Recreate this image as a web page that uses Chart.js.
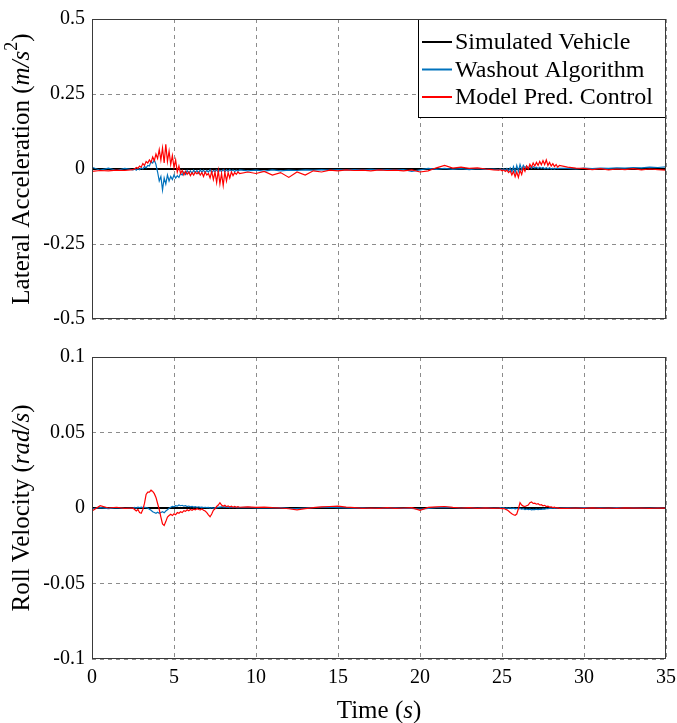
<!DOCTYPE html>
<html>
<head>
<meta charset="utf-8">
<script src="https://cdn.jsdelivr.net/npm/chart.js@4.4.1/dist/chart.umd.min.js"></script>
<style>
  html, body { margin: 0; padding: 0; background: #fff; }
  #wrap { position: relative; width: 677px; height: 723px; }
  #lat-chart { position: absolute; left: 0; top: 0; }
  #roll-chart { position: absolute; left: 0; top: 338px; }
</style>
</head>
<body>
<div id="wrap">
  <canvas id="lat-chart" width="677" height="338"></canvas>
  <canvas id="roll-chart" width="677" height="385"></canvas>
</div>
<script>
// sample times (s), finer where the signals move
const times = [
    0, 0.5, 1, 1.5, 2, 2.5,
    2.6, 2.7, 2.8, 2.9, 3.0, 3.1, 3.2, 3.3, 3.4, 3.5, 3.6, 3.7, 3.8, 3.9,
    4.0, 4.1, 4.2, 4.3, 4.4, 4.5, 4.6, 4.7, 4.8, 4.9, 5.0, 5.1, 5.2, 5.3, 5.4, 5.5, 5.6, 5.7, 5.8, 5.9,
    6.0, 6.1, 6.2, 6.3, 6.4, 6.5, 6.6, 6.7, 6.8, 6.9, 7.0, 7.1, 7.2, 7.3, 7.4, 7.5, 7.6, 7.7, 7.8, 7.9,
    8.0, 8.1, 8.2, 8.3, 8.4, 8.5, 8.6, 8.7, 8.8, 8.9, 9.0,
    9.5, 10, 10.5, 11, 11.5, 12, 12.5, 13, 13.5, 14, 14.5, 15, 15.5, 16, 16.5, 17, 17.5, 18, 18.5, 19,
    19.5, 20, 20.5, 21, 21.5, 22, 22.5, 23, 23.5, 24, 24.5,
    24.8, 24.9, 25.0, 25.1, 25.2, 25.3, 25.4, 25.5, 25.6, 25.7, 25.8, 25.9, 26.0, 26.1, 26.2, 26.3, 26.4, 26.5, 26.6, 26.7,
    26.8, 26.9, 27.0, 27.1, 27.2, 27.3, 27.4, 27.5, 27.6, 27.7, 27.8, 27.9, 28.0, 28.1, 28.2, 28.3, 28.4, 28.5,
    29, 29.5, 30, 30.5, 31, 31.5, 32, 32.5, 33, 33.5, 34, 34.5, 35
];

// simulated vehicle stays at zero
const simTimes = [0, 35];
const simLateral = [0, 0];
const simRoll = [0, 0];

// lateral acceleration (m/s^2)
const washoutLateral = [
    0.006, -0.004, 0.003, -0.005, 0.002, -0.003,
    0.0, -0.004, 0.002, -0.002, 0.004, 0.0, 0.008, 0.004, 0.012, 0.01, 0.025, 0.02, 0.03, 0.015,
    -0.01, -0.04, -0.025, -0.07, -0.03, -0.05, -0.02, -0.04, -0.025, -0.035, -0.02, -0.03, -0.022, -0.028, -0.015, -0.02, -0.01, -0.018, -0.005, -0.014,
    -0.006, -0.015, -0.004, -0.012, -0.005, -0.014, -0.003, -0.01, -0.004, -0.012, -0.005, -0.01, -0.002, -0.012, -0.005, -0.008, -0.003, -0.01, -0.004, -0.008,
    -0.002, -0.009, -0.003, -0.008, -0.002, -0.007, -0.003, -0.008, -0.004, -0.007, -0.003,
    -0.006, -0.004, -0.007, -0.003, -0.006, -0.004, -0.005, -0.003, -0.004, -0.002, -0.004, -0.002, -0.003, -0.002, -0.003, -0.001, -0.003, -0.002, -0.003, -0.002,
    -0.008, -0.003, 0.002, -0.001, 0.002, -0.001, 0.001, -0.002, 0.001, -0.001, 0.0,
    -0.002, 0.0, -0.003, 0.001, -0.004, 0.002, -0.006, 0.004, -0.01, 0.008, -0.012, 0.012, -0.008, 0.015, -0.002, 0.012, 0.004, 0.01, 0.003, 0.008,
    0.002, 0.008, 0.003, 0.006, 0.002, 0.006, 0.002, 0.005, 0.001, 0.004, 0.001, 0.004, 0.0, 0.003, 0.0, 0.003, 0.001, 0.002,
    0.002, 0.0, 0.003, 0.001, 0.003, 0.002, 0.004, 0.003, 0.005, 0.004, 0.006, 0.005, 0.007
];
const mpcLateral = [
    -0.008, -0.005, -0.006, -0.004, -0.005, -0.002,
    0.0, 0.005, 0.002, 0.01, 0.006, 0.018, 0.012, 0.025, 0.02, 0.03, 0.022, 0.04, 0.028, 0.05,
    0.035, 0.065, 0.03, 0.07, 0.02, 0.082, 0.025, 0.06, 0.015, 0.045, 0.005, 0.03, -0.01, 0.01, -0.015, -0.005, -0.02, -0.008, -0.018, -0.01,
    -0.022, -0.012, -0.02, -0.01, -0.016, -0.01, -0.02, -0.012, -0.025, -0.01, -0.02, -0.015, -0.03, -0.008, -0.035, -0.01, -0.045, -0.005, -0.05, -0.015,
    -0.055, -0.01, -0.04, -0.012, -0.03, -0.01, -0.022, -0.012, -0.018, -0.01, -0.015,
    -0.01, -0.015, -0.008, -0.02, -0.012, -0.028, -0.01, -0.02, -0.006, -0.01, -0.004, -0.006, -0.003, -0.005, -0.004, -0.006, -0.003, -0.005, -0.004, -0.006,
    -0.003, -0.01, -0.006, 0.004, 0.012, 0.003, 0.006, 0.002, 0.004, 0.0, -0.003,
    -0.004, -0.002, -0.006, -0.003, -0.008, -0.004, -0.012, -0.006, -0.02, -0.008, -0.026, -0.01, -0.028, -0.004, -0.018, 0.004, -0.008, 0.01, 0.0, 0.016,
    0.006, 0.02, 0.01, 0.022, 0.012, 0.025, 0.014, 0.028, 0.015, 0.03, 0.012, 0.022, 0.01, 0.018, 0.008, 0.015, 0.006, 0.012,
    0.006, 0.003, 0.002, -0.002, 0.001, -0.003, 0.0, -0.002, 0.001, -0.003, 0.0, -0.002, -0.004
];

// roll velocity (rad/s)
const washoutRoll = [
    -0.0005, 0.0003, -0.0004, 0.0002, -0.0003, 0.0,
    0.0004, 0.0, 0.0005, 0.0002, 0.0006, 0.0003, 0.0005, 0.0002, 0.0, -0.0008, -0.0015, -0.0025, -0.003, -0.0035,
    -0.0028, -0.0035, -0.003, -0.0025, -0.0032, -0.002, -0.0012, -0.0002, 0.0005, 0.001, 0.0008, 0.0015, 0.0012, 0.002, 0.0015, 0.0018, 0.0012, 0.0015, 0.001, 0.0013,
    0.0008, 0.001, 0.0006, 0.0009, 0.0005, 0.0008, 0.0004, 0.0006, 0.0003, 0.0005, 0.0002, 0.0004, 0.0, 0.0003, -0.0002, 0.0002, 0.0, 0.0004, 0.0006, 0.0008,
    0.0005, 0.0007, 0.0004, 0.0006, 0.0003, 0.0005, 0.0003, 0.0005, 0.0002, 0.0004, 0.0002,
    0.0004, 0.0001, 0.0003, 0.0, 0.0002, -0.0002, -0.0004, -0.0001, 0.0002, 0.0004, 0.0005, 0.0003, 0.0001, -0.0001, 0.0001, -0.0002, 0.0, -0.0001, 0.0001, -0.0002,
    -0.0002, -0.0008, -0.0002, 0.0002, 0.0004, 0.0002, 0.0, 0.0001, -0.0001, 0.0001, -0.0001,
    0.0, 0.0002, -0.0001, 0.0002, -0.0002, 0.0001, -0.0003, 0.0, -0.0004, -0.0001, -0.0005, -0.0002, -0.0006, -0.0003, -0.0008, -0.0005, -0.001, -0.0007, -0.0011, -0.0008,
    -0.0012, -0.0009, -0.0011, -0.0008, -0.001, -0.0007, -0.0009, -0.0006, -0.0007, -0.0004, -0.0005, -0.0002, -0.0003, 0.0, -0.0002, 0.0001, -0.0001, 0.0,
    0.0001, -0.0001, 0.0002, 0.0, 0.0001, -0.0001, 0.0002, 0.0, 0.0001, -0.0001, 0.0, 0.0001, 0.0
];
const mpcRoll = [
    -0.002, 0.0015, 0.0, 0.0005, -0.0003, 0.0,
    -0.001, -0.002, -0.001, -0.003, -0.0035, -0.001, 0.003, 0.009, 0.0105, 0.0105, 0.0118, 0.011, 0.0095, 0.007,
    0.003, -0.001, -0.006, -0.0105, -0.0115, -0.009, -0.006, -0.005, -0.0042, -0.005, -0.0038, -0.0045, -0.003, -0.0035, -0.0025, -0.003, -0.0018, -0.0022, -0.0012, -0.0018,
    -0.001, -0.0015, -0.0008, -0.0012, -0.0005, -0.001, -0.0012, -0.0006, -0.0015, -0.002, -0.003, -0.0045, -0.0058, -0.004, -0.0015, -0.0005, 0.001, 0.002, 0.0035, 0.002,
    0.0012, 0.0018, 0.0008, 0.0014, 0.0006, 0.0012, 0.0005, 0.001, 0.0004, 0.0009, 0.0005,
    0.0008, 0.0004, 0.0006, 0.0002, 0.0, -0.0005, -0.0012, -0.0004, 0.0002, 0.0008, 0.001, 0.0012, 0.0006, 0.0002, -0.0002, 0.0, -0.0003, 0.0002, -0.0002, 0.0,
    0.0002, -0.0015, 0.0004, 0.0008, 0.001, 0.0004, 0.0, 0.0002, -0.0002, 0.0001, -0.0002,
    0.0, -0.0003, -0.0005, -0.0002, -0.0008, -0.0012, -0.002, -0.003, -0.0038, -0.0045, -0.0048, -0.004, -0.0005, 0.0035, 0.002, 0.0012, 0.001, 0.0015, 0.002, 0.0035,
    0.004, 0.003, 0.0032, 0.0025, 0.0028, 0.002, 0.0022, 0.0015, 0.0018, 0.001, 0.0012, 0.0006, 0.0008, 0.0003, 0.0005, 0.0, 0.0002, -0.0002,
    -0.0002, 0.0, -0.0003, 0.0001, -0.0002, 0.0, -0.0002, 0.0001, -0.0001, 0.0, -0.0002, 0.0, -0.0001
];

const timeTicks = [0, 5, 10, 15, 20, 25, 30, 35];
const latTicks = [-0.5, -0.25, 0, 0.25, 0.5];
const latTickLabels = ['-0.5', '-0.25', '0', '0.25', '0.5'];
const rollTicks = [-0.1, -0.05, 0, 0.05, 0.1];
const rollTickLabels = ['-0.1', '-0.05', '0', '0.05', '0.1'];

const seriesNames = ['Simulated Vehicle', 'Washout Algorithm', 'Model Pred. Control'];
const seriesColors = ['#000000', '#0072BD', '#FF0000'];

// axis titles, split so the units can be set in italic
const latTitle = [{ t: 'Lateral Acceleration (' }, { t: 'm/s', it: true }, { t: '2', sup: true }, { t: ')' }];
const rollTitle = [{ t: 'Roll Velocity (' }, { t: 'rad/s', it: true }, { t: ')' }];
const timeTitle = [{ t: 'Time (' }, { t: 's', it: true }, { t: ')' }];

const SERIF = "'Liberation Serif', 'Times New Roman', serif";
const TITLE_SIZE = 25;

function toPoints(xs, ys) {
    const n = Math.min(xs.length, ys.length);
    const pts = [];
    for (let i = 0; i < n; i++) pts.push({ x: xs[i], y: ys[i] });
    return pts;
}

function partFont(p) {
    const size = p.sup ? Math.round(TITLE_SIZE * 0.7) : TITLE_SIZE;
    return (p.it ? 'italic ' : '') + size + 'px ' + SERIF;
}

// draws a title made of parts, centred on (cx, cy)
function drawRichText(ctx, parts, cx, cy, vertical) {
    ctx.save();
    let total = 0;
    parts.forEach(p => { ctx.font = partFont(p); total += ctx.measureText(p.t).width; });
    ctx.translate(cx, cy);
    if (vertical) ctx.rotate(-Math.PI / 2);
    ctx.textBaseline = 'middle';
    ctx.textAlign = 'left';
    ctx.fillStyle = '#000';
    let x = -total / 2;
    parts.forEach(p => {
        ctx.font = partFont(p);
        ctx.fillText(p.t, x, p.sup ? -TITLE_SIZE * 0.38 : 0);
        x += ctx.measureText(p.t).width;
    });
    ctx.restore();
}

const titlesPlugin = {
    id: 'richTitles',
    afterDraw(chart, args, opts) {
        const { ctx, chartArea: a } = chart;
        if (opts.y) drawRichText(ctx, opts.y, 22, (a.top + a.bottom) / 2, true);
        if (opts.x) drawRichText(ctx, opts.x, (a.left + a.right) / 2, chart.height - 12, false);
    }
};

// frame around the plot area (box on)
const framePlugin = {
    id: 'frame',
    afterDraw(chart) {
        const { ctx, chartArea: a } = chart;
        ctx.save();
        ctx.strokeStyle = '#3a3a3a';
        ctx.lineWidth = 1;
        ctx.strokeRect(a.left + 0.5, a.top + 0.5, a.right - a.left - 1, a.bottom - a.top - 1);
        ctx.restore();
    }
};

// boxed legend in the top right corner of the upper plot
const legendBoxPlugin = {
    id: 'legendBox',
    afterDatasetsDraw(chart) {
        const { ctx, chartArea: a } = chart;
        const w = 248, h = 99;
        const x0 = a.right - w, y0 = a.top;
        ctx.save();
        ctx.fillStyle = '#fff';
        ctx.fillRect(x0, y0, w, h);
        ctx.strokeStyle = '#000';
        ctx.lineWidth = 1;
        ctx.strokeRect(x0 + 0.5, y0 + 0.5, w - 1, h - 1);
        ctx.font = '24px ' + SERIF;
        ctx.textBaseline = 'middle';
        ctx.fillStyle = '#000';
        seriesNames.forEach((name, i) => {
            const y = y0 + 23 + i * 27.5;
            ctx.strokeStyle = seriesColors[i];
            ctx.lineWidth = 2;
            ctx.beginPath();
            ctx.moveTo(x0 + 4, y);
            ctx.lineTo(x0 + 34, y);
            ctx.stroke();
            ctx.fillText(name, x0 + 37, y + 1);
        });
        ctx.restore();
    }
};

function makeDatasets(simY, washY, mpcY) {
    return [
        { label: seriesNames[0], data: toPoints(simTimes, simY), borderColor: seriesColors[0], borderWidth: 2, order: 3 },
        { label: seriesNames[1], data: toPoints(times, washY), borderColor: seriesColors[1], borderWidth: 1.2, order: 2 },
        { label: seriesNames[2], data: toPoints(times, mpcY), borderColor: seriesColors[2], borderWidth: 1.2, order: 1 }
    ].map(d => Object.assign(d, { pointRadius: 0, tension: 0, fill: false }));
}

function yAxis(ticksArr, labels) {
    return {
        type: 'linear',
        min: ticksArr[0],
        max: ticksArr[ticksArr.length - 1],
        afterBuildTicks: scale => { scale.ticks = ticksArr.map(v => ({ value: v })); },
        afterFit: scale => { scale.width = 92; },
        ticks: {
            color: '#000',
            padding: 7,
            font: { family: SERIF, size: 20 },
            callback: (v) => {
                const i = ticksArr.findIndex(t => Math.abs(t - v) < 1e-9);
                return i >= 0 ? labels[i] : '';
            }
        },
        grid: { color: '#8c8c8c', lineWidth: 1, drawTicks: false },
        border: { display: false, dash: [4, 4] }
    };
}

function xAxis(showLabels) {
    return {
        type: 'linear',
        min: 0,
        max: 35,
        afterBuildTicks: scale => { scale.ticks = timeTicks.map(v => ({ value: v })); },
        afterFit: scale => {
            scale.height = showLabels ? 64 : 0;
            scale.paddingLeft = 0;
            scale.paddingRight = 0;
        },
        ticks: {
            display: showLabels,
            color: '#000',
            padding: 7,
            maxRotation: 0,
            font: { family: SERIF, size: 20 }
        },
        grid: { color: '#8c8c8c', lineWidth: 1, drawTicks: false },
        border: { display: false, dash: [4, 4] }
    };
}

function baseOptions(showX, padTop, titles) {
    return {
        responsive: false,
        animation: false,
        devicePixelRatio: 1,
        layout: { padding: { top: padTop, right: 11, bottom: showX ? 0 : 18, left: 0 } },
        plugins: { legend: { display: false }, tooltip: { enabled: false }, richTitles: titles },
        scales: { x: xAxis(showX), y: titles.yTicks }
    };
}

new Chart(document.getElementById('lat-chart').getContext('2d'), {
    type: 'line',
    data: { datasets: makeDatasets(simLateral, washoutLateral, mpcLateral) },
    options: baseOptions(false, 17, { y: latTitle, yTicks: yAxis(latTicks, latTickLabels) }),
    plugins: [legendBoxPlugin, framePlugin, titlesPlugin]
});

new Chart(document.getElementById('roll-chart').getContext('2d'), {
    type: 'line',
    data: { datasets: makeDatasets(simRoll, washoutRoll, mpcRoll) },
    options: baseOptions(true, 18, { y: rollTitle, x: timeTitle, yTicks: yAxis(rollTicks, rollTickLabels) }),
    plugins: [framePlugin, titlesPlugin]
});
</script>
</body>
</html>
